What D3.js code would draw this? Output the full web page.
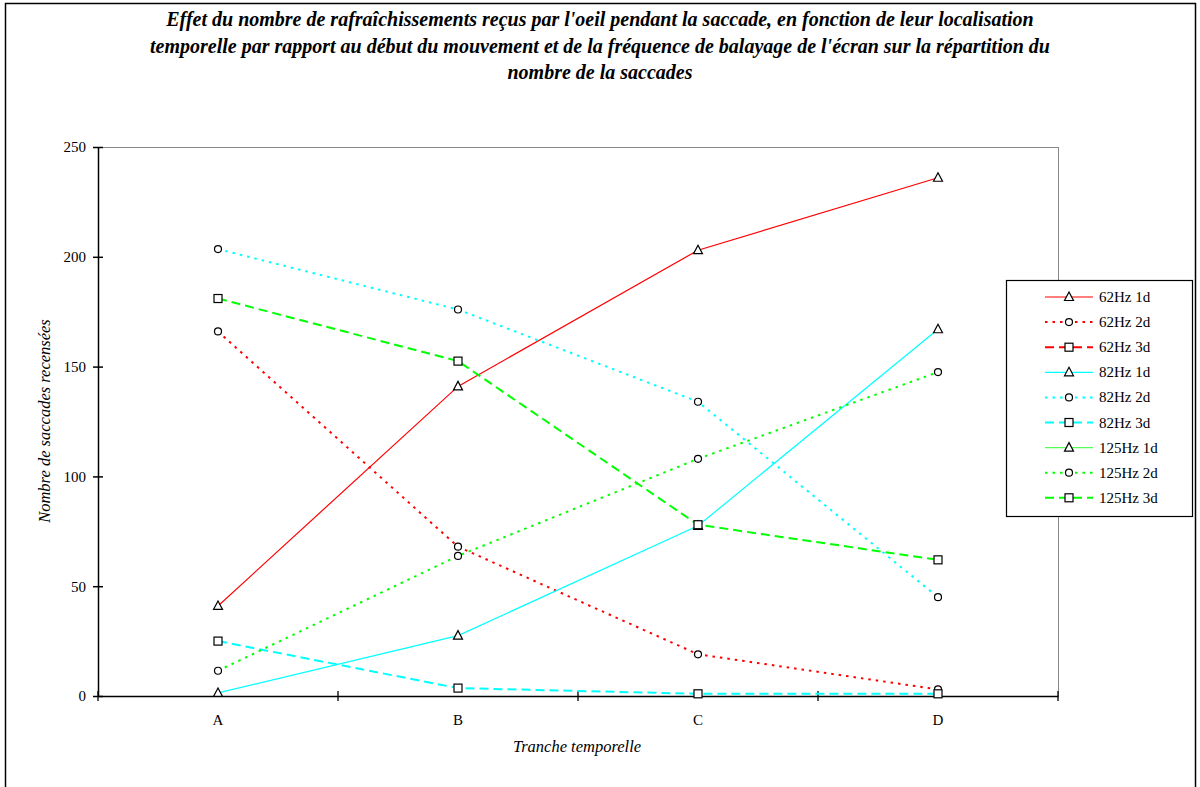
<!DOCTYPE html>
<html><head><meta charset="utf-8">
<script src="https://cdn.jsdelivr.net/npm/d3@7"></script>
<style>
body{margin:0;background:#fff;}
text{font-family:"Liberation Serif","Times New Roman",serif;fill:#000;}
</style></head>
<body><svg id="c" width="1200" height="787"></svg>
<script>
const categories = ["A","B","C","D"];
const yTicks = [0,50,100,150,200,250];
const seriesNames = ["62Hz 1d","62Hz 2d","62Hz 3d","82Hz 1d","82Hz 2d","82Hz 3d","125Hz 1d","125Hz 2d","125Hz 3d"];
const s62_1d = [41,141,203,236];
const s62_2d = [166,68,19,3];
const s62_3d = [null,null,null,null];
const s82_1d = [1.4,27.5,77.5,167];
const s82_2d = [203.5,176,134,45];
const s82_3d = [25,3.6,1,1];
const s125_1d = [null,null,null,null];
const s125_2d = [11.5,63.8,108,147.5];
const s125_3d = [181,152.5,78,62];
const seriesValues = [s62_1d,s62_2d,s62_3d,s82_1d,s82_2d,s82_3d,s125_1d,s125_2d,s125_3d];
const seriesColors = ["#ff0000","#ff0000","#ff0000","#00ffff","#00ffff","#00ffff","#55ff55","#00ff00","#00ff00"];
const seriesDash = ["","2.5,5","9,5","","2.5,5","9,5","","2.5,5","9,5"];
const seriesWidth = [1.2,2,2,1.2,2,2,1.2,2,2];
const seriesMarker = ["tri","circ","sq","tri","circ","sq","tri","circ","sq"];
const titleLines = ["Effet du nombre de rafraîchissements reçus par l'oeil pendant la saccade, en fonction de leur localisation",
"temporelle par rapport au début du mouvement et de la fréquence de balayage de l'écran sur la répartition du",
"nombre de la saccades"];

const svg = d3.select("#c");
svg.append("rect").attr("x",5.5).attr("y",3.5).attr("width",1190).attr("height",800)
  .attr("fill","none").attr("stroke","#000").attr("stroke-width",1.5);

const x0=98,x1=1058,y0=696,y1=147;
const x = d3.scaleBand().domain(categories).range([x0,x1]);
const y = d3.scaleLinear().domain([0,250]).range([y0,y1]);

// title
svg.append("g").selectAll("text").data(titleLines).join("text")
  .attr("x",600).attr("y",(d,i)=>26+i*26.5).attr("text-anchor","middle")
  .style("font-family","'Liberation Serif',serif")
  .style("font-size","20px").style("font-weight","bold").style("font-style","italic").text(d=>d);

// plot frame
svg.append("line").attr("x1",x0).attr("x2",x1).attr("y1",y1+0.5).attr("y2",y1+0.5).attr("stroke","#888");
svg.append("line").attr("x1",x1+0.5).attr("x2",x1+0.5).attr("y1",y1).attr("y2",y0).attr("stroke","#888");

// axes
const yAxis = d3.axisLeft(y).tickValues(yTicks).tickSize(0).tickPadding(12);
const gy = svg.append("g").attr("transform",`translate(${x0},0)`).call(yAxis);
gy.select(".domain").attr("stroke","#000").attr("stroke-width",1.5);
gy.selectAll("text").style("font-size","15px").style("font-family","Liberation Serif");
gy.selectAll(".tick").append("line").attr("x1",-5).attr("x2",5).attr("stroke","#000").attr("stroke-width",1.5);

const xAxis = d3.axisBottom(x).tickSize(0).tickPadding(18);
const gx = svg.append("g").attr("transform",`translate(0,${y0})`).call(xAxis);
gx.select(".domain").attr("stroke","#000").attr("stroke-width",1.5);
gx.selectAll("text").style("font-size","15px").style("font-family","Liberation Serif");
const bounds = categories.map(c=>x(c)).concat([x1]);
gx.selectAll(".bt").data(bounds).join("line").attr("class","bt")
  .attr("x1",d=>d).attr("x2",d=>d).attr("y1",-5).attr("y2",5).attr("stroke","#000").attr("stroke-width",1.3);

svg.append("text").attr("x",577).attr("y",752).attr("text-anchor","middle")
  .style("font-size","16.5px").style("font-style","italic").text("Tranche temporelle");
svg.append("text").attr("transform","translate(50,421) rotate(-90)").attr("text-anchor","middle")
  .style("font-size","16.5px").style("font-style","italic").text("Nombre de saccades recensées");

// markers
function drawMarker(g, type, cx, cy){
  if(type==="tri"){
    g.append("path").attr("d",`M${cx},${cy-5}L${cx+4.5},${cy+3.5}L${cx-4.5},${cy+3.5}Z`)
     .attr("fill","#fff").attr("stroke","#000").attr("stroke-width",1.2);
  } else if(type==="circ"){
    g.append("circle").attr("cx",cx).attr("cy",cy).attr("r",3.5)
     .attr("fill","#fff").attr("stroke","#000").attr("stroke-width",1.2);
  } else {
    g.append("rect").attr("x",cx-4).attr("y",cy-4).attr("width",8).attr("height",8)
     .attr("fill","#fff").attr("stroke","#000").attr("stroke-width",1.2);
  }
}

const line = d3.line().defined(d=>d!=null).x((d,i)=>x(categories[i])+x.bandwidth()/2).y(d=>y(d));
const linesG = svg.append("g");
seriesValues.forEach((vals,k)=>{
  linesG.append("path").attr("d",line(vals)).attr("fill","none")
    .attr("stroke",seriesColors[k]).attr("stroke-width",seriesWidth[k])
    .attr("stroke-dasharray",seriesDash[k]||null);
});
const markG = svg.append("g");
seriesValues.forEach((vals,k)=>{
  vals.forEach((v,i)=>{ if(v!=null) drawMarker(markG, seriesMarker[k], x(categories[i])+x.bandwidth()/2, y(v)); });
});

// legend
const lg = svg.append("g");
lg.append("rect").attr("x",1006.5).attr("y",280.5).attr("width",186).attr("height",236)
  .attr("fill","#fff").attr("stroke","#000").attr("stroke-width",1.2);
seriesNames.forEach((n,k)=>{
  const yy = 297 + k*25.1;
  lg.append("line").attr("x1",1045).attr("x2",1093).attr("y1",yy).attr("y2",yy)
    .attr("stroke",seriesColors[k]).attr("stroke-width",seriesWidth[k]).attr("stroke-dasharray",seriesDash[k]||null);
  drawMarker(lg, seriesMarker[k], 1069, yy);
  lg.append("text").attr("x",1099).attr("y",yy+5).style("font-size","15px").text(n);
});
</script></body></html>
